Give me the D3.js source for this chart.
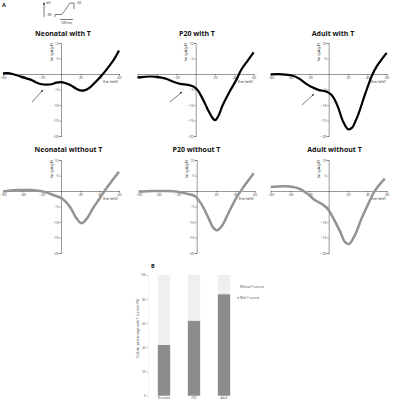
<!DOCTYPE html>
<html><head><meta charset="utf-8">
<script src="https://cdn.jsdelivr.net/npm/d3@7"></script>
<style>body{margin:0;background:#fff}svg{display:block}text{font-family:"Open Sans",sans-serif}</style>
</head><body><svg id="c" width="396" height="400"></svg>
<script>
// ---- data (mV, pA/pF) ----
const neoWithT = [[-60,0.2],[-55,0.3],[-50,0],[-45,-0.5],[-40,-1],[-35,-1.5],[-30,-2],[-25,-2.8],[-20,-3.3],[-15,-3.4],[-10,-3.3],[-5,-2.8],[0,-2.6],[5,-3],[10,-3.6],[15,-4.6],[20,-5.3],[25,-5.2],[30,-4.3],[35,-2.8],[40,-1.2],[45,0.6],[50,2.6],[55,4.8],[60,7.6]];
const p20WithT = [[-60,-1.1],[-53,-0.9],[-47,-0.8],[-40,-0.9],[-35,-1.2],[-30,-1.6],[-23,-2.5],[-16,-3.2],[-8,-3.5],[-2,-4.1],[2,-5.2],[6,-7.3],[10,-9.8],[13,-11.8],[17,-14],[20,-14.9],[23,-13.8],[28,-10],[35,-5.7],[42,-1.9],[47,1.3],[54,4.4],[60,7]];
const adultWithT = [[-60,-0.1],[-48,-0.1],[-38,-0.5],[-31,-1.4],[-24,-3],[-17,-4.3],[-10,-5.2],[-2,-5.7],[3,-6.8],[7,-8.8],[10,-11],[15,-15.4],[20,-17.8],[24,-17.4],[28,-15],[31,-12.7],[38,-6.2],[45,-0.3],[50,2.6],[55,4.8],[60,6.8]];
const neoNoT = [[-60,-0.2],[-46,0.3],[-32,0.3],[-18,-0.2],[-8,-1.3],[1,-2.4],[9,-5],[16,-8.8],[21,-10.4],[27,-8.8],[33,-5.6],[40,-2.4],[45,0],[52,3],[60,6.2]];
const p20NoT = [[-60,-0.2],[-45,0],[-31,0],[-21,-0.2],[-10,-0.9],[-2,-1.6],[5,-4.3],[12,-8.6],[17,-11.8],[21,-12.7],[26,-11.3],[33,-7],[41,-2.2],[48,1.1],[59,5.7]];
const adultNoT = [[-60,1.3],[-45,1.5],[-31,0.8],[-22,-0.9],[-14,-3],[-5,-4.6],[0,-6.2],[5,-8.9],[12,-13.2],[17,-16.5],[21,-17.1],[27,-14.3],[34,-8.9],[41,-4.1],[48,0.2],[58,4]];
const xTicks = [-60,-40,-20,20,40,60];
const yTicks = [10,5,-5,-10,-15,-20];
const titles = ["Neonatal with T","P20 with T","Adult with T","Neonatal without T","P20 without T","Adult without T"];
// bar chart
const groups = ["Neonatal","P20","Adult"];
const withT = [42,62,84];
const barTicks = [0,20,40,60,80,100];
const legendLabels = ["Without T current","With T current"];

const svg = d3.select("#c");

const panels = [
  {d:neoWithT,   x0:3,     x1:119,   y0:136, y1:43,  col:"#000", w:2.2, t:titles[0], tx:63,  ty:36},
  {d:p20WithT,   x0:137.7, x1:253.7, y0:136, y1:43,  col:"#000", w:2.2, t:titles[1], tx:197, ty:36},
  {d:adultWithT, x0:270.7, x1:386.7, y0:136, y1:43,  col:"#000", w:2.2, t:titles[2], tx:333, ty:36},
  {d:neoNoT,     x0:3,     x1:119,   y0:253, y1:160, col:"#939393", w:2.5, t:titles[3], tx:68.5,ty:152},
  {d:p20NoT,     x0:138.7, x1:254.7, y0:253, y1:160, col:"#939393", w:2.5, t:titles[4], tx:196.5,ty:152},
  {d:adultNoT,   x0:270.7, x1:386.7, y0:253, y1:160, col:"#939393", w:2.5, t:titles[5], tx:334.5,ty:152}
];
const arrows = [[32,102,43,90],[170,102,182,92],[302,105,314,94]];

svg.append("defs").append("marker").attr("id","ah").attr("viewBox","0 0 10 10").attr("refX",9).attr("refY",5)
  .attr("markerWidth",4).attr("markerHeight",4).attr("orient","auto")
  .append("path").attr("d","M0,1L10,5L0,9Z").attr("fill","#222");

panels.forEach((p,i)=>{
  const x = d3.scaleLinear().domain([-60,60]).range([p.x0,p.x1]);
  const y = d3.scaleLinear().domain([-20,10]).range([p.y0,p.y1]);
  const g = svg.append("g");
  const xa = g.append("g").attr("transform",`translate(0,${y(0)})`)
    .call(d3.axisBottom(x).tickValues(xTicks).tickSize(1.5).tickPadding(0.8).tickFormat(d3.format("d")));
  const ya = g.append("g").attr("transform",`translate(${x(0)},0)`)
    .call(d3.axisLeft(y).tickValues(yTicks).tickSize(1.5).tickPadding(0.8).tickFormat(d3.format("d")));
  [xa,ya].forEach(a=>{
    a.select(".domain").attr("stroke","#333").attr("stroke-width",0.5);
    a.selectAll(".tick line").attr("stroke","#333").attr("stroke-width",0.5);
    a.selectAll(".tick text").attr("font-size",3.4).attr("fill","#333").attr("font-family","Arial, sans-serif");
  });
  g.append("text").attr("x",p.x1-1).attr("y",y(0)+9).attr("text-anchor","end")
    .attr("font-size",3.8).attr("fill","#222").attr("font-family","Arial, sans-serif").text("Em (mV)");
  g.append("text").attr("transform",`translate(${x(0)-8.5},${y(10)}) rotate(-90)`).attr("text-anchor","end")
    .attr("font-size",3.8).attr("fill","#222").attr("font-family","Arial, sans-serif").text("Im (pA/pF)");
  g.append("path").datum(p.d)
    .attr("d",d3.line().x(d=>x(d[0])).y(d=>y(d[1])).curve(d3.curveCatmullRom.alpha(0.5)))
    .attr("fill","none").attr("stroke",p.col).attr("stroke-width",p.w).attr("stroke-linejoin","round");
  svg.append("text").attr("x",p.tx).attr("y",p.ty).attr("text-anchor","middle")
    .attr("font-size",7).attr("font-weight",700).attr("fill","#111").text(p.t);
  if(i<3){
    const a = arrows[i];
    g.append("line").attr("x1",a[0]).attr("y1",a[1]).attr("x2",a[2]).attr("y2",a[3])
      .attr("stroke","#222").attr("stroke-width",0.6).attr("marker-end","url(#ah)");
  }
});

svg.append("text").attr("x",2).attr("y",7).attr("font-size",5.5).attr("font-weight",700).attr("fill","#111").text("A");
const ins = svg.append("g").attr("stroke","#222").attr("stroke-width",0.6).attr("fill","none");
ins.append("line").attr("x1",44).attr("y1",17).attr("x2",44).attr("y2",2.5).attr("marker-end","url(#ah)");
ins.append("path").attr("d","M55,17V14.5H62L70,3H74V9");
ins.append("path").attr("d","M60,19.5H73");
const insT = svg.append("g").attr("font-size",3).attr("fill","#222").attr("font-family","Arial, sans-serif");
insT.append("text").attr("x",46).attr("y",4).text("mV");
insT.append("text").attr("x",47).attr("y",16).text("-80");
insT.append("text").attr("x",76).attr("y",4).text("+60");
insT.append("text").attr("x",61.5).attr("y",23.5).text("500 ms");

// ---- panel B ----
svg.append("text").attr("x",151).attr("y",268).attr("font-size",5.5).attr("font-weight",700).attr("fill","#111").text("B");
const bx = d3.scaleBand().domain(groups).range([149,239]).paddingInner(0.59).paddingOuter(0.295);
const by = d3.scaleLinear().domain([0,100]).range([395.7,275]);
const bg = svg.append("g");
bg.selectAll("rect.bgbar").data(groups).join("rect").attr("class","bgbar")
  .attr("x",d=>bx(d)).attr("width",bx.bandwidth()).attr("y",by(100)).attr("height",by(0)-by(100)).attr("fill","#efefef");
bg.selectAll("rect.fg").data(withT).join("rect").attr("class","fg")
  .attr("x",(d,i)=>bx(groups[i])).attr("width",bx.bandwidth()).attr("y",d=>by(d)).attr("height",d=>by(0)-by(d)).attr("fill","#8c8c8c");
const bya = bg.append("g").attr("transform","translate(148,0)")
  .call(d3.axisLeft(by).tickValues(barTicks).tickSize(1.5).tickPadding(1));
bya.select(".domain").attr("stroke","#ddd").attr("stroke-width",0.4);
bya.selectAll(".tick line").attr("stroke","#777").attr("stroke-width",0.4);
bya.selectAll(".tick text").attr("font-size",2.8).attr("fill","#444").attr("font-family","Arial, sans-serif");
const bxa = bg.append("g").attr("transform",`translate(0,${by(0)})`).call(d3.axisBottom(bx).tickSize(0).tickPadding(1.2));
bxa.select(".domain").remove();
bxa.selectAll(".tick text").attr("font-size",2.8).attr("fill","#444").attr("font-family","Arial, sans-serif");
svg.append("text").attr("transform","translate(138.5,328.5) rotate(-90)").attr("text-anchor","middle")
  .attr("font-size",3.4).attr("fill","#333").attr("font-family","Arial, sans-serif").text("Cellular percentage with T current (%)");
const lg = svg.append("g").attr("font-size",2.9).attr("fill","#444").attr("font-family","Arial, sans-serif");
lg.append("text").attr("x",240).attr("y",288).text(legendLabels[0]);
lg.append("rect").attr("x",237.5).attr("y",297.2).attr("width",1.3).attr("height",1.3).attr("fill","#555");
lg.append("text").attr("x",240).attr("y",299).text(legendLabels[1]);
</script></body></html>
